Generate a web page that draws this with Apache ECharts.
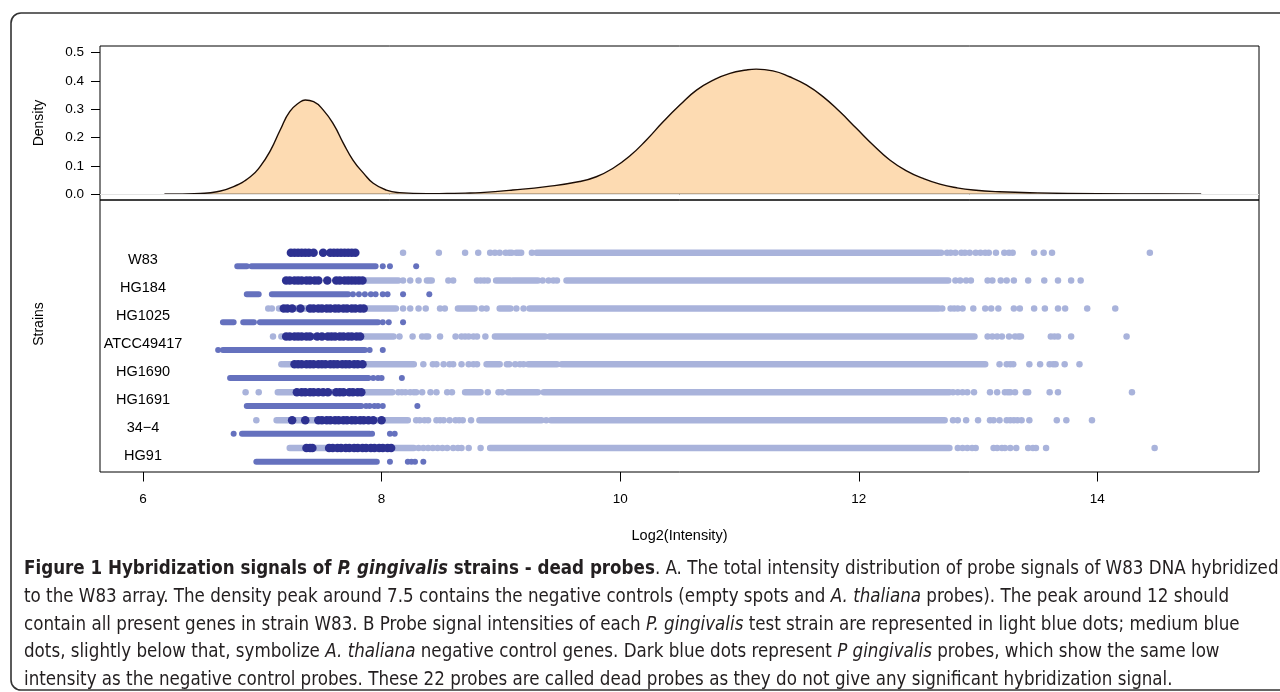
<!DOCTYPE html>
<html>
<head>
<meta charset="utf-8">
<script src="https://cdn.jsdelivr.net/npm/echarts@6/dist/echarts.min.js"></script>
<style>
html,body{margin:0;padding:0;background:#fff;}
#chart{width:1280px;height:692px;}
</style>
</head>
<body>
<div id="chart"></div>
<script>
// ---------- data ----------
const strains = ['W83','HG184','HG1025','ATCC49417','HG1690','HG1691','34\u22124','HG91'];
const xTicks = [6, 8, 10, 12, 14];
const yTicks = [0, 0.1, 0.2, 0.3, 0.4, 0.5];

const densityX = [6.18,6.48,6.62,6.76,6.90,6.98,7.07,7.15,7.23,7.32,7.36,7.43,7.51,7.60,7.68,7.76,7.85,7.93,8.04,8.15,8.38,8.55,8.70,8.83,9.10,9.38,9.66,9.80,9.94,10.08,10.22,10.36,10.50,10.64,10.78,10.92,11.06,11.14,11.28,11.42,11.56,11.70,11.84,11.98,12.12,12.26,12.40,12.54,12.68,12.82,12.96,13.18,13.50,14.00,14.50,14.87];
const densityY = [0.000,0.003,0.009,0.027,0.062,0.097,0.156,0.227,0.292,0.327,0.333,0.327,0.298,0.245,0.180,0.121,0.074,0.039,0.015,0.006,0.002,0.003,0.004,0.006,0.015,0.027,0.045,0.062,0.092,0.135,0.192,0.256,0.315,0.368,0.403,0.427,0.439,0.442,0.436,0.415,0.386,0.345,0.292,0.233,0.174,0.121,0.083,0.056,0.036,0.023,0.015,0.009,0.005,0.002,0.001,0.000];

// test-strain probes (light blue): dense runs [from,to] and separate dots
const lightBands = [
  [[9.30,12.67]],
  [[7.85,8.14],[8.96,9.08],[9.10,9.31],[9.55,12.75]],
  [[7.14,8.12],[8.64,8.78],[8.99,9.08],[9.24,12.67]],
  [[7.20,8.10],[8.95,9.37],[9.41,12.97]],
  [[7.18,8.27],[8.88,8.99],[9.23,9.47],[9.51,13.06]],
  [[7.13,8.09],[8.70,8.83],[9.06,9.31],[9.36,12.76]],
  [[7.12,8.22],[8.82,9.34],[9.42,12.72]],
  [[7.23,8.27],[8.91,12.76]]
];
const lightDots = [
  [8.18,8.48,8.70,8.81,8.91,8.95,8.99,9.04,9.07,9.09,9.13,9.15,9.17,9.26,12.69,12.74,12.77,12.81,12.86,12.89,12.93,12.98,13.02,13.06,13.09,13.15,13.22,13.26,13.29,13.47,13.55,13.62,14.44],
  [8.18,8.24,8.31,8.38,8.40,8.42,8.56,8.60,8.80,8.83,8.86,8.89,9.35,9.40,9.44,9.47,12.81,12.85,12.90,12.94,13.08,13.12,13.19,13.24,13.30,13.42,13.555,13.67,13.78,13.86],
  [7.05,7.08,8.18,8.24,8.31,8.37,8.49,8.53,8.84,8.88,9.13,9.19,12.70,12.77,12.80,12.83,12.87,12.96,13.06,13.11,13.17,13.30,13.35,13.47,13.56,13.67,13.73,13.915,14.15],
  [7.09,7.16,8.15,8.26,8.34,8.37,8.39,8.49,8.62,8.67,8.70,8.73,8.77,8.80,8.87,13.08,13.12,13.16,13.20,13.26,13.31,13.34,13.36,13.61,13.64,13.67,13.78,14.245],
  [7.16,8.35,8.43,8.46,8.52,8.57,8.60,8.67,8.73,8.77,8.80,9.05,9.07,9.12,9.16,9.19,13.18,13.24,13.27,13.295,13.43,13.52,13.60,13.63,13.65,13.726,13.85],
  [6.86,6.97,8.14,8.17,8.20,8.24,8.27,8.29,8.34,8.41,8.46,8.55,8.59,8.89,8.98,9.01,12.79,12.83,12.87,12.91,12.966,13.10,13.16,13.225,13.25,13.27,13.31,13.40,13.42,13.60,13.67,14.29],
  [6.95,8.29,8.32,8.36,8.39,8.46,8.49,8.52,8.57,8.62,8.65,8.68,8.75,9.38,12.79,12.83,12.90,13.00,13.10,13.13,13.18,13.24,13.27,13.30,13.33,13.365,13.43,13.66,13.74,13.955],
  [8.31,8.35,8.39,8.43,8.47,8.51,8.55,8.60,8.64,8.67,8.73,8.83,12.83,12.87,12.91,12.95,12.98,13.13,13.16,13.20,13.225,13.27,13.32,13.42,13.46,13.485,13.57,14.48]
];
// A. thaliana negative controls (medium blue)
const medBands = [
  [[6.79,6.87],[6.91,7.95]],
  [[6.87,6.97],[7.08,7.72]],
  [[6.67,6.76],[6.84,6.93],[6.98,7.97]],
  [[6.67,7.86]],
  [[6.73,7.89]],
  [[6.87,7.83]],
  [[6.83,7.90]],
  [[6.95,7.96]]
];
const medDots = [
  [8.01,8.07,8.29],
  [7.76,7.81,7.86,7.91,7.95,8.01,8.05,8.18,8.40],
  [8.01,8.06,8.18],
  [6.63,7.90,8.01],
  [7.93,7.97,8.00,8.17],
  [7.87,7.90,7.94,7.97,8.01,8.30],
  [6.76,7.92,8.07,8.11],
  [8.07,8.22,8.25,8.28,8.35]
];
// dead P. gingivalis probes (dark blue)
const darkDots = [
  [7.24,7.27,7.30,7.33,7.36,7.39,7.43,7.51,7.57,7.60,7.63,7.66,7.69,7.72,7.75,7.78],
  [7.20,7.23,7.27,7.30,7.33,7.37,7.40,7.44,7.47,7.545,7.62,7.65,7.69,7.72,7.75,7.78,7.81,7.84],
  [7.18,7.21,7.25,7.32,7.40,7.43,7.47,7.50,7.54,7.57,7.61,7.64,7.68,7.71,7.75,7.78,7.82,7.85],
  [7.20,7.23,7.27,7.30,7.33,7.37,7.40,7.46,7.50,7.55,7.58,7.61,7.65,7.68,7.72,7.75,7.79,7.82],
  [7.27,7.30,7.33,7.37,7.40,7.43,7.47,7.50,7.53,7.57,7.60,7.63,7.67,7.70,7.73,7.77,7.80,7.84],
  [7.29,7.33,7.36,7.40,7.43,7.47,7.51,7.55,7.62,7.65,7.68,7.73,7.76,7.80,7.83],
  [7.25,7.36,7.47,7.50,7.54,7.57,7.61,7.64,7.68,7.71,7.75,7.78,7.82,7.85,7.89,7.93,8.00],
  [7.37,7.40,7.42,7.56,7.59,7.63,7.66,7.70,7.73,7.77,7.80,7.84,7.87,7.91,7.94,7.98,8.01,8.05,8.08]
];

// ---------- build ----------
const UP = -0.26, LOW = 0.23;   // row offsets inside a strain slot
function rowY(i, off){ return i + 0.5 + off; }
function bandData(bands, off){
  const out = [];
  bands.forEach((list, i) => list.forEach(b => {
    out.push([b[0], rowY(i, off)], [b[1], rowY(i, off)], ['-', '-']);
  }));
  return out;
}
function dotData(dots, off){
  const out = [];
  dots.forEach((list, i) => list.forEach(v => out.push([v, rowY(i, off)])));
  return out;
}
const densityData = densityX.map((x, k) => [x, densityY[k]]);

const LIGHT = '#A9B3DB', MED = '#6571BE', DARK = '#2D3191';
const FONT = '"Liberation Sans", Arial, sans-serif';
const CAP = '"DejaVu Sans Condensed", "Liberation Sans Narrow", sans-serif';
const CAPSIZE = 18.6;

const chart = echarts.init(document.getElementById('chart'), null, {renderer: 'canvas'});

function capLine(y, text){
  const base = {fontFamily: CAP, fontSize: CAPSIZE, color: '#231F20'};
  return {
    type: 'text', left: 24, top: y, silent: true,
    style: {
      text: text, font: CAPSIZE + 'px ' + CAP, fill: '#231F20',
      rich: {
        b: Object.assign({fontWeight: 'bold'}, base),
        bi: Object.assign({fontWeight: 'bold', fontStyle: 'italic'}, base),
        i: Object.assign({fontStyle: 'italic'}, base),
        n: Object.assign({}, base)
      }
    }
  };
}

const option = {
  animation: false,
  backgroundColor: '#fff',
  textStyle: {fontFamily: FONT},
  grid: [
    {left: 100, top: 46, width: 1159, height: 154, show: true, borderColor: '#000', borderWidth: 1, backgroundColor: 'transparent', outerBoundsMode: 'none'},
    {left: 100, top: 200, width: 1159, height: 272, show: true, borderColor: '#000', borderWidth: 1, backgroundColor: 'transparent', outerBoundsMode: 'none'},
    {left: 100, top: 246, width: 1159, height: 223.6, show: false, outerBoundsMode: 'none'}
  ],
  xAxis: [
    {gridIndex: 0, type: 'value', min: 5.6396, max: 15.355, show: false, axisLine: {onZero: false}},
    {gridIndex: 1, type: 'value', min: 5.6396, max: 15.355, position: 'bottom',
     axisLine: {show: false, onZero: false}, splitLine: {show: false},
     axisTick: {show: true, length: 9.5, customValues: xTicks, lineStyle: {color: '#000', width: 1}},
     axisLabel: {customValues: xTicks, margin: 20, color: '#000', fontSize: 13.5, fontFamily: FONT},
     name: 'Log2(Intensity)', nameLocation: 'middle', nameGap: 56,
     nameTextStyle: {color: '#000', fontSize: 14.5, fontFamily: FONT}},
    {gridIndex: 2, type: 'value', min: 0, max: 1, show: false, axisLine: {onZero: false}}
  ],
  yAxis: [
    {gridIndex: 0, type: 'value', min: -0.0201, max: 0.5236, position: 'left',
     axisLine: {show: false, onZero: false}, splitLine: {show: false},
     axisTick: {show: true, length: 9, customValues: yTicks, lineStyle: {color: '#000', width: 1}},
     axisLabel: {customValues: yTicks, margin: 16, color: '#000', fontSize: 13.5, fontFamily: FONT,
                 formatter: v => v.toFixed(1)},
     name: 'Density', nameLocation: 'middle', nameGap: 54,
     nameTextStyle: {color: '#000', fontSize: 14, fontFamily: FONT}},
    {gridIndex: 1, type: 'value', inverse: true, min: -1.6467, max: 8.096, position: 'left',
     axisLine: {show: false, onZero: false}, axisTick: {show: false}, axisLabel: {show: false}, splitLine: {show: false},
     name: 'Strains', nameLocation: 'middle', nameGap: 54,
     nameTextStyle: {color: '#000', fontSize: 14, fontFamily: FONT, padding: [0, 0, 0, 24]}},
    {gridIndex: 2, type: 'category', inverse: true, data: strains, position: 'left',
     axisLine: {show: false, onZero: false}, axisTick: {show: false}, splitLine: {show: false},
     axisLabel: {inside: true, margin: 43, align: 'center', color: '#000', fontSize: 14.5, fontFamily: FONT}}
  ],
  series: [
    {type: 'line', xAxisIndex: 0, yAxisIndex: 0, data: densityData, smooth: 0.5,
     symbol: 'none', silent: true, sampling: null,
     lineStyle: {color: '#1b0c04', width: 1.4},
     areaStyle: {color: '#FDDBB2', opacity: 1},
     markLine: {silent: true, symbol: 'none', label: {show: false},
       lineStyle: {color: '#e4e4e4', width: 1, type: 'solid'}, data: [{yAxis: 0}]},
     z: 2},
    {type: 'line', xAxisIndex: 0, yAxisIndex: 0, silent: true, symbol: 'none',
     data: [[densityX[0], 0], [densityX[densityX.length - 1], 0]],
     lineStyle: {color: '#111', width: 1.2}, z: 3},
    {type: 'line', xAxisIndex: 1, yAxisIndex: 1, silent: true, symbol: 'none', connectNulls: false,
     data: bandData(lightBands, UP), lineStyle: {color: LIGHT, width: 6.5, cap: 'round'}, z: 2},
    {type: 'scatter', xAxisIndex: 1, yAxisIndex: 1, silent: true, symbolSize: 6.5,
     data: dotData(lightDots, UP), itemStyle: {color: LIGHT, opacity: 1}, z: 3},
    {type: 'line', xAxisIndex: 1, yAxisIndex: 1, silent: true, symbol: 'none', connectNulls: false,
     data: bandData(medBands, LOW), lineStyle: {color: MED, width: 6, cap: 'round'}, z: 4},
    {type: 'scatter', xAxisIndex: 1, yAxisIndex: 1, silent: true, symbolSize: 6,
     data: dotData(medDots, LOW), itemStyle: {color: MED, opacity: 1}, z: 5},
    {type: 'scatter', xAxisIndex: 1, yAxisIndex: 1, silent: true, symbolSize: 8.5,
     data: dotData(darkDots, UP), itemStyle: {color: DARK, opacity: 1}, z: 6}
  ],
  graphic: [
    {type: 'rect', silent: true, shape: {x: 11, y: 13, width: 1300, height: 677, r: 10},
     style: {fill: 'none', stroke: '#333', lineWidth: 1.6}},
    capLine(560, '{b|Figure 1 Hybridization signals of }{bi|P. gingivalis}{b| strains - dead probes}{n|. A. The total intensity distribution of probe signals of W83 DNA hybridized}'),
    capLine(588, '{n|to the W83 array. The density peak around 7.5 contains the negative controls (empty spots and }{i|A. thaliana}{n| probes). The peak around 12 should}'),
    capLine(615.5, '{n|contain all present genes in strain W83. B Probe signal intensities of each }{i|P. gingivalis}{n| test strain are represented in light blue dots; medium blue}'),
    capLine(643, '{n|dots, slightly below that, symbolize }{i|A. thaliana}{n| negative control genes. Dark blue dots represent }{i|P gingivalis}{n| probes, which show the same low}'),
    capLine(670.5, '{n|intensity as the negative control probes. These 22 probes are called dead probes as they do not give any significant hybridization signal.}')
  ]
};
chart.setOption(option);
</script>
</body>
</html>
